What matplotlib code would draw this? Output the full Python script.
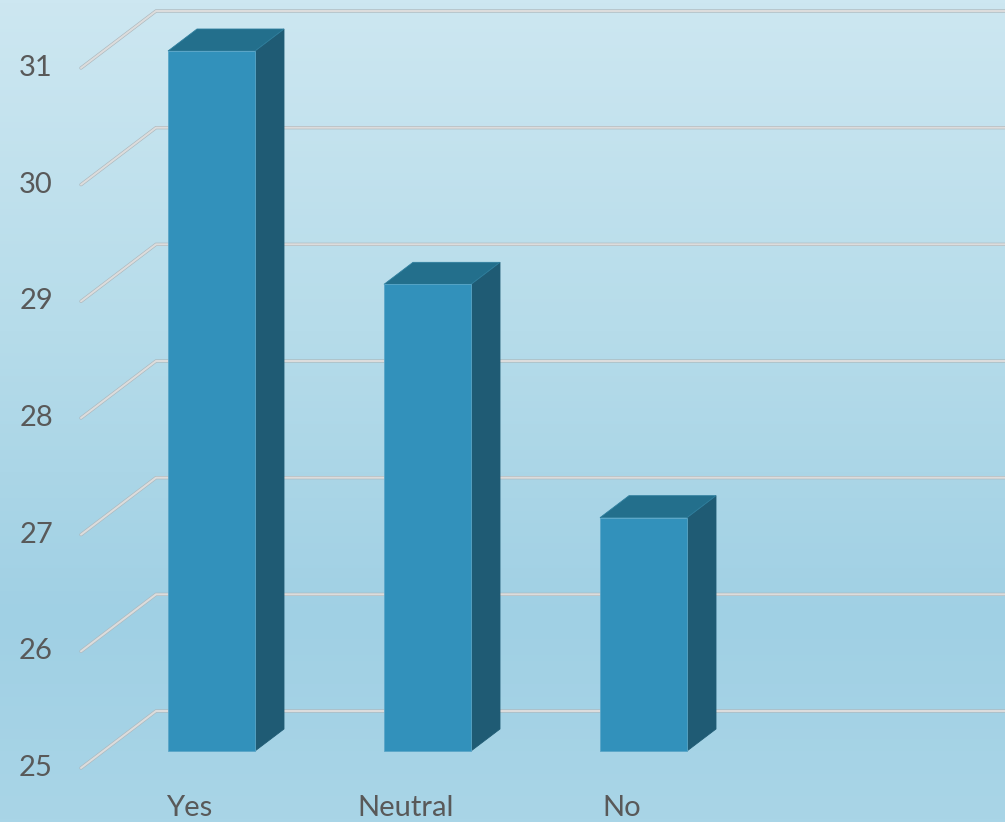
import numpy as np
import matplotlib
matplotlib.use("Agg")
import matplotlib.pyplot as plt
from matplotlib.patches import Polygon
from matplotlib.colors import LinearSegmentedColormap

categories = ["Yes", "Neutral", "No"]
values = [31, 29, 27]
y_ticks = [25, 26, 27, 28, 29, 30, 31]

W, H = 1005, 822
fig = plt.figure(figsize=(W / 100, H / 100), dpi=100)
ax = fig.add_axes([0, 0, 1, 1])
ax.set_axis_off()

# scale: category spacing 216 px, 1 value unit = 116.67 px
px_x = 216.0
px_y = 700.0 / 6
x0_px, y0_px = 211.5, 751.0  # pixel of category 0 / value 25 on front plane
xlim = (-x0_px / px_x, (W - x0_px) / px_x)
ylim = (25 - (H - y0_px) / px_y, 25 + y0_px / px_y)
ax.set_xlim(*xlim)
ax.set_ylim(*ylim)

# background gradient
cmap = LinearSegmentedColormap.from_list(
    "bg", [(0.0, "#a9d5e7"), (0.25, "#a0d0e4"), (0.6, "#b6dcea"), (1.0, "#cde7f1")])
grad = np.linspace(0, 1, 256).reshape(-1, 1)
ax.imshow(grad, extent=[xlim[0], xlim[1], ylim[0], ylim[1]], origin="lower",
          aspect="auto", cmap=cmap, zorder=0)

# gridlines (3D style: diagonal side wall + back wall)
gx_front = (81 - x0_px) / px_x
gx_back = (156 - x0_px) / px_x
gy_front = -17 / px_y
gy_back = 40 / px_y
for v in y_ticks:
    xs = [gx_front, gx_back, xlim[1]]
    ys = [v + gy_front, v + gy_back, v + gy_back]
    ax.plot(xs, ys, color="#adb8bd", lw=2.4, zorder=1, solid_capstyle="round",
            solid_joinstyle="miter")
    ax.plot(xs, ys, color="#dcdcdc", lw=1.5, zorder=1.1, solid_capstyle="round",
            solid_joinstyle="miter")
    ax.text((53 - x0_px) / px_x, v + gy_front, str(v), ha="right", va="center",
            fontsize=21, color="#595959", family="Lato")

# bars
half_w = 43.5 / px_x
dx = 29 / px_x
dy = 22 / px_y
for i, (cat, val) in enumerate(zip(categories, values)):
    l, r = i - half_w, i + half_w
    b, t = 25, val
    front = Polygon([(l, b), (r, b), (r, t), (l, t)], closed=True,
                    facecolor="#3291bb", edgecolor="#5aa6c8", lw=0.6, zorder=3)
    top = Polygon([(l, t), (r, t), (r + dx, t + dy), (l + dx, t + dy)], closed=True,
                  facecolor="#236f8c", edgecolor="#2f7f9e", lw=0.6, zorder=3)
    side = Polygon([(r, b), (r + dx, b + dy), (r + dx, t + dy), (r, t)], closed=True,
                   facecolor="#1f5b74", edgecolor="#1f5b74", lw=0.6, zorder=3)
    for p in (side, top, front):
        ax.add_patch(p)
    ax.text(i - 22 / px_x, 25 - 57 / px_y, cat, ha="center", va="center",
            fontsize=21, color="#595959", family="Lato")

fig.savefig("out.png", dpi=100)
